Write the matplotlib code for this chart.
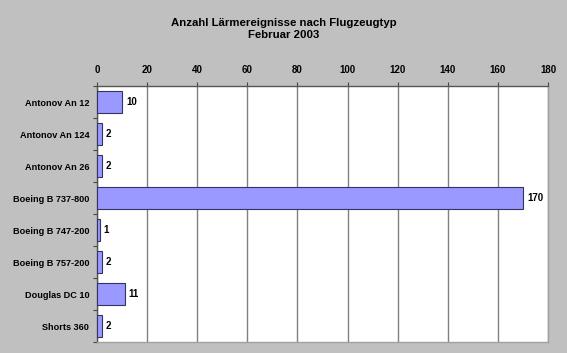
import numpy as np
import matplotlib.pyplot as plt

# Data
aircraft = ["Antonov An 12", "Antonov An 124", "Antonov An 26", "Boeing B 737-800",
            "Boeing B 747-200", "Boeing B 757-200", "Douglas DC 10", "Shorts 360"]
events = [10, 2, 2, 170, 1, 2, 11, 2]
xticks = [0, 20, 40, 60, 80, 100, 120, 140, 160, 180]

plt.rcParams['font.family'] = ['Liberation Sans', 'DejaVu Sans']

fig = plt.figure(figsize=(5.67, 3.53), dpi=100, facecolor='#C0C0C0')
ax = fig.add_axes([97 / 567, 1 - 342 / 353, (548 - 97) / 567, (342 - 86) / 353])
ax.set_facecolor('white')

y = np.arange(len(aircraft))
ax.barh(y, events, height=0.68, color='#9999FF', edgecolor='#333366', linewidth=0.8, zorder=3)
for yi, v in zip(y, events):
    ax.text(v + 1.6, yi, str(v), va='center', ha='left', fontsize=7, fontweight='bold', zorder=4)

ax.set_xlim(0, 180)
ax.set_ylim(len(aircraft) - 0.5, -0.5)
ax.set_xticks(xticks)
ax.xaxis.tick_top()
ax.tick_params(axis='x', top=True, bottom=False, length=3, width=0.8, color='#444444',
               labelsize=7, pad=5)
for lbl in ax.get_xticklabels():
    lbl.set_fontweight('bold')

ax.set_yticks(y)
ax.set_yticklabels(aircraft, fontsize=6.6, fontweight='bold')
ax.tick_params(axis='y', length=0, pad=5.5)
ax.set_yticks(np.arange(len(aircraft) + 1) - 0.5, minor=True)
ax.tick_params(axis='y', which='minor', length=3, width=0.8, color='#444444')

ax.grid(axis='x', color='#808080', linewidth=1.0, zorder=1)
ax.spines['top'].set_color('#555555')
ax.spines['left'].set_color('#555555')
ax.spines['right'].set_color('#A0A0A0')
ax.spines['bottom'].set_color('#A0A0A0')
for s in ax.spines.values():
    s.set_linewidth(1.0)

fig.text(0.5, 1 - 29 / 353, "Anzahl Lärmereignisse nach Flugzeugtyp\nFebruar 2003",
         ha='center', va='center', fontsize=8.2, fontweight='bold', linespacing=1.2)

fig.savefig("out.png", dpi=100, facecolor=fig.get_facecolor())
